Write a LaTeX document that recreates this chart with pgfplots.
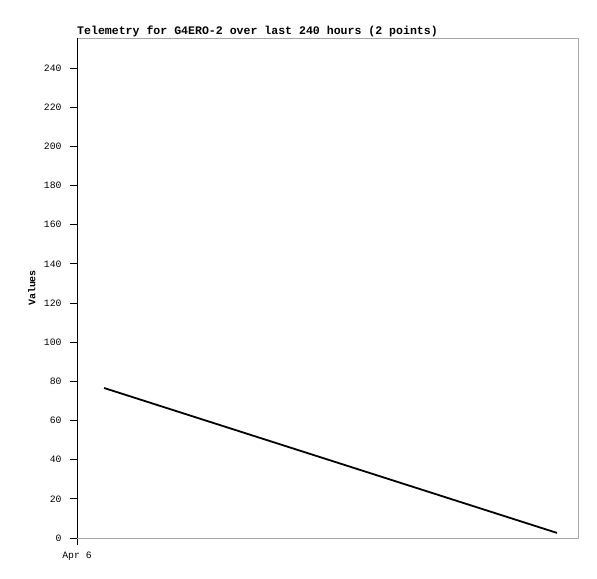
\documentclass[border=0pt]{standalone}
\usepackage{fontspec}
\setmainfont{Liberation Mono}
\setmonofont{Liberation Mono}
\usepackage{pgfplots}
\pgfplotsset{compat=1.18}

\begin{document}
\begin{tikzpicture}[x=1bp,y=1bp]
\path (0,0) rectangle (597,579);
\begin{axis}[
  at={(77bp,41bp)},
  anchor=south west,
  scale only axis,
  width=501bp,
  height=500bp,
  xmin=0, xmax=100,
  ymin=0, ymax=255.3,
  xtick={0},
  xticklabels={Apr 6},
  ytick={0,20,...,240},
  tick align=outside,
  xtick pos=bottom,
  ytick pos=left,
  major tick length=7bp,
  tick style={black, line width=0.8bp},
  axis line style={gray!70, line width=0.8bp},
  tick label style={font=\fontsize{9.8}{10}\selectfont},
  /pgf/number format/assume math mode=true,
  yticklabel style={xshift=-5bp},
  xticklabel style={yshift=-3bp},
  every axis title shift=0pt,
  title={\bfseries Telemetry for G4ERO-2 over last 240 hours (2 points)},
  title style={font=\fontsize{11.6}{12}\selectfont, anchor=base west, at={(rel axis cs:0,1)}, inner sep=0bp, yshift=3.5bp},
  ylabel={\bfseries Values},
  ylabel style={font=\fontsize{12}{12}\selectfont},
  every axis y label/.style={at={(rel axis cs:-0.09,0.5)}, rotate=90, anchor=center},
]
\addplot[black, line width=1.8bp] coordinates {
  (5.4,76.6) (95.8,2.6)
};
\draw[black, line width=0.9bp] (rel axis cs:0,0) -- (rel axis cs:0,1);
\draw[black, line width=0.9bp] (rel axis cs:0,0) -- (rel axis cs:1,0);
\end{axis}
\end{tikzpicture}
\end{document}
